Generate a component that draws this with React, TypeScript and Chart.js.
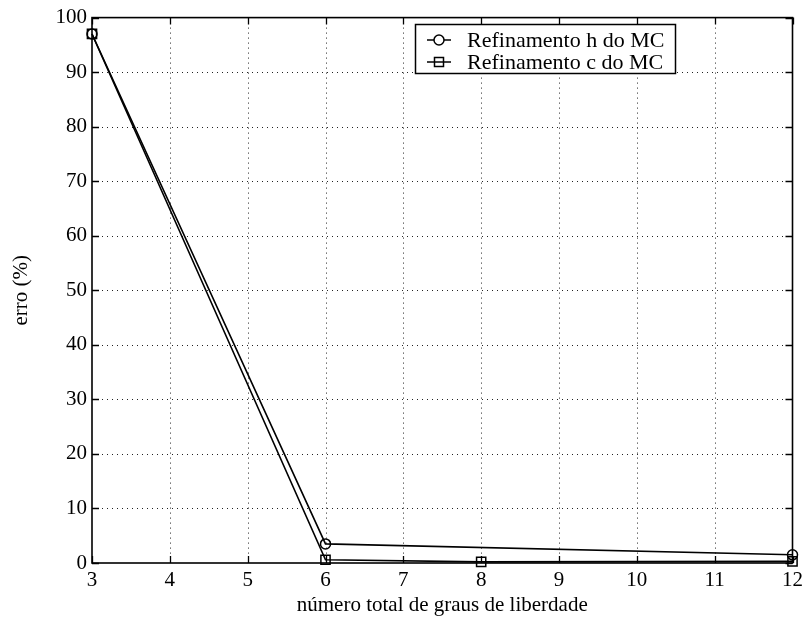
import React, { useEffect, useRef } from 'react';
import { Chart, registerables } from 'chart.js';

Chart.register(...registerables);

const xTickValues = [3, 4, 5, 6, 7, 8, 9, 10, 11, 12];
const yTickValues = [0, 10, 20, 30, 40, 50, 60, 70, 80, 90, 100];
const hX = [3, 6, 12];
const hY = [97, 3.5, 1.5];
const cX = [3, 6, 8, 12];
const cY = [97, 0.6, 0.2, 0.3];
const seriesLabels = ['Refinamento h do MC', 'Refinamento c do MC'];
const seriesMarkers = ['circle', 'rect'];
const xTitle = 'número total de graus de liberdade';
const yTitle = 'erro (%)';

const FONT = '"Liberation Serif", "Times New Roman", serif';

const framePlugin = {
  id: 'frame',
  beforeDatasetsDraw(chart: any) {
    const { ctx, chartArea: a, scales } = chart;
    const xs = scales.x;
    const ys = scales.y;
    ctx.save();
    ctx.strokeStyle = '#222';
    ctx.lineWidth = 1;
    ctx.setLineDash([1, 4]);
    xTickValues.forEach((v) => {
      if (v === xs.min || v === xs.max) return;
      const px = Math.round(xs.getPixelForValue(v)) + 0.5;
      ctx.beginPath();
      ctx.moveTo(px, a.top);
      ctx.lineTo(px, a.bottom);
      ctx.stroke();
    });
    yTickValues.forEach((v) => {
      if (v === ys.min || v === ys.max) return;
      const py = Math.round(ys.getPixelForValue(v)) + 0.5;
      ctx.beginPath();
      ctx.moveTo(a.left, py);
      ctx.lineTo(a.right, py);
      ctx.stroke();
    });
    ctx.setLineDash([]);
    ctx.strokeStyle = '#000';
    ctx.lineWidth = 1.3;
    const tl = 7;
    xTickValues.forEach((v) => {
      const px = Math.round(xs.getPixelForValue(v)) + 0.5;
      ctx.beginPath();
      ctx.moveTo(px, a.bottom);
      ctx.lineTo(px, a.bottom - tl);
      ctx.moveTo(px, a.top);
      ctx.lineTo(px, a.top + tl);
      ctx.stroke();
    });
    yTickValues.forEach((v) => {
      const py = Math.round(ys.getPixelForValue(v)) + 0.5;
      ctx.beginPath();
      ctx.moveTo(a.left, py);
      ctx.lineTo(a.left + tl, py);
      ctx.moveTo(a.right, py);
      ctx.lineTo(a.right - tl, py);
      ctx.stroke();
    });
    ctx.lineWidth = 1.6;
    ctx.strokeRect(a.left, a.top, a.right - a.left, a.bottom - a.top);
    ctx.restore();
  },
  afterDatasetsDraw(chart: any) {
    const { ctx } = chart;
    ctx.save();
    const bx = 415, by = 24, bw = 260, bh = 49;
    ctx.fillStyle = '#fff';
    ctx.fillRect(bx, by, bw, bh);
    ctx.strokeStyle = '#000';
    ctx.lineWidth = 1.5;
    ctx.strokeRect(bx + 0.5, by + 0.5, bw, bh);
    seriesLabels.forEach((label, i) => {
      const cy = by + 16 + i * 22;
      ctx.strokeStyle = '#000';
      ctx.lineWidth = 1.5;
      ctx.beginPath();
      ctx.moveTo(427, cy);
      ctx.lineTo(451, cy);
      ctx.stroke();
      if (seriesMarkers[i] === 'circle') {
        ctx.fillStyle = '#fff';
        ctx.beginPath();
        ctx.arc(439, cy, 5, 0, Math.PI * 2);
        ctx.fill();
        ctx.stroke();
      } else {
        ctx.strokeRect(439 - 4.5, cy - 4.5, 9, 9);
      }
      ctx.fillStyle = '#000';
      ctx.font = `22px ${FONT}`;
      ctx.textBaseline = 'middle';
      ctx.textAlign = 'left';
      ctx.fillText(label, 467, cy + 1);
    });
    ctx.restore();
  },
};

export default function App() {
  const ref = useRef<HTMLCanvasElement | null>(null);
  useEffect(() => {
    document.body.style.margin = '0';
    const canvas = ref.current;
    if (!canvas) return;
    const mk = (xsArr: number[], ysArr: number[]) => xsArr.map((x, i) => ({ x, y: ysArr[i] }));
    const chart = new Chart(canvas, {
      type: 'line',
      data: {
        datasets: [
          {
            label: seriesLabels[0],
            data: mk(hX, hY),
            borderColor: '#000',
            borderWidth: 1.6,
            pointStyle: 'circle',
            pointRadius: 5,
            pointBorderWidth: 1.5,
            pointBackgroundColor: 'rgba(0,0,0,0)',
            pointBorderColor: '#000',
            clip: false as any,
            tension: 0,
          },
          {
            label: seriesLabels[1],
            data: mk(cX, cY),
            borderColor: '#000',
            borderWidth: 1.6,
            pointStyle: 'rect',
            pointRadius: 6.5,
            pointBorderWidth: 1.5,
            pointBackgroundColor: 'rgba(0,0,0,0)',
            pointBorderColor: '#000',
            clip: false as any,
            tension: 0,
          },
        ],
      },
      options: {
        animation: false,
        responsive: false,
        maintainAspectRatio: false,
        layout: { padding: { top: 16, right: 15, left: 0, bottom: 0 } },
        plugins: { legend: { display: false }, tooltip: { enabled: false } },
        scales: {
          x: {
            type: 'linear',
            min: 3,
            max: 12,
            afterBuildTicks: (s: any) => {
              s.ticks = xTickValues.map((v) => ({ value: v }));
            },
            afterFit: (s: any) => {
              s.height = 58;
            },
            grid: { display: false, drawTicks: false, tickLength: 0 },
            border: { display: false },
            ticks: {
              color: '#000',
              font: { family: FONT, size: 21 },
              padding: 5,
              maxRotation: 0,
              autoSkip: false,
            },
            title: {
              display: true,
              text: xTitle,
              color: '#000',
              font: { family: FONT, size: 21 },
              padding: { top: 0, bottom: 3 },
            },
          },
          y: {
            type: 'linear',
            min: 0,
            max: 100,
            afterBuildTicks: (s: any) => {
              s.ticks = yTickValues.map((v) => ({ value: v }));
            },
            afterFit: (s: any) => {
              s.width = 92;
            },
            grid: { display: false, drawTicks: false, tickLength: 0 },
            border: { display: false },
            ticks: {
              color: '#000',
              font: { family: FONT, size: 21 },
              padding: 5,
              autoSkip: false,
            },
            title: {
              display: true,
              text: yTitle,
              color: '#000',
              font: { family: FONT, size: 21 },
              padding: { top: 9, bottom: 0 },
            },
          },
        },
      },
      plugins: [framePlugin],
    });
    return () => chart.destroy();
  }, []);
  return (
    <div style={{ position: 'absolute', left: 0, top: 0, width: 808, height: 621, background: '#fff' }}>
      <canvas ref={ref} width={808} height={621} style={{ width: 808, height: 621, display: 'block' }} />
    </div>
  );
}
